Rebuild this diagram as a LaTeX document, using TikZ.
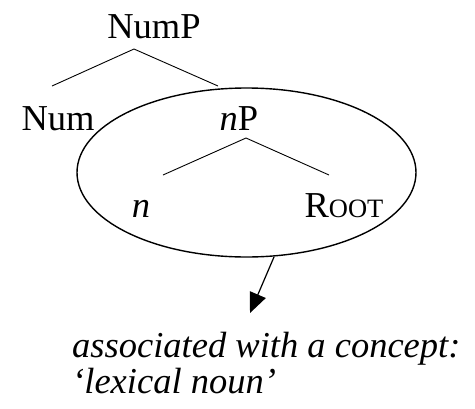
\documentclass[tikz,border=0pt]{standalone}
\usepackage{fontspec}
\setmainfont{Liberation Serif}
\usetikzlibrary{arrows.meta,shapes.geometric}
\begin{document}
\begin{tikzpicture}[x=1pt,y=-1pt,
  lbl/.style={inner sep=0pt,anchor=base,font=\fontsize{36.5}{42}\selectfont},
  branch/.style={line width=0.9pt},
  itxt/.style={inner sep=0pt,anchor=base west,font=\fontsize{36.5}{42}\selectfont\itshape}]
\useasboundingbox (0,0) rectangle (475,408);
\node[lbl] (nump) at (154,38) {NumP};
\node[lbl] (num) at (58,130) {Num};
\node[lbl] (np) at (239,130) {\textit{n}P};
\node[lbl] (n) at (141,217) {\textit{n}};
\node[lbl] (root) at (344,217) {R{\fontsize{26.5}{30}\selectfont OOT}};
\coordinate (a1) at (134,49);
\coordinate (l1) at (52,86);
\coordinate (r1) at (218,86);
\coordinate (a2) at (246,138);
\coordinate (l2) at (163,175);
\coordinate (r2) at (329,175);
\draw[branch] (l1) -- (a1) -- (r1);
\draw[branch] (l2) -- (a2) -- (r2);
\node[ellipse,draw,line width=1.4pt,minimum width=339pt,minimum height=169pt,inner sep=0pt] (ell) at (246.5,172.5) {};
\coordinate (s) at (274,257);
\coordinate (t) at (250,313);
\draw[line width=1.2pt,-{Triangle[length=20pt,width=17pt]}] (s) -- (t);
\node[itxt] (l1txt) at (72,357) {associated with a concept:};
\node[itxt] (l2txt) at (72,393) {‘lexical noun’};
\end{tikzpicture}
\end{document}
